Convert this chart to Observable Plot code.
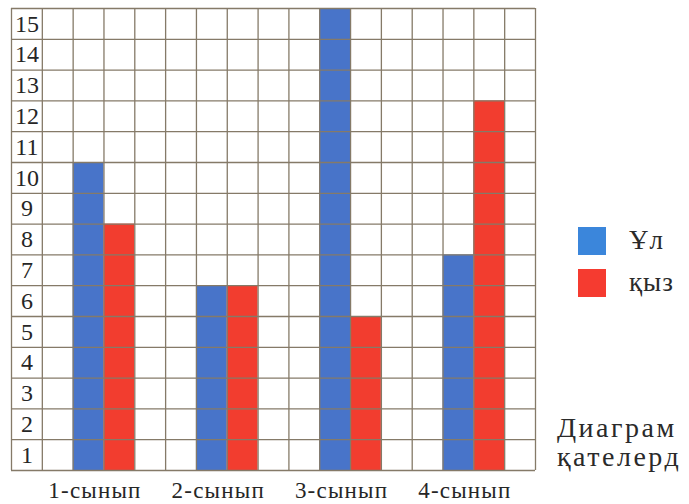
<!DOCTYPE html>
<html><head><meta charset="utf-8">
<script src="https://cdn.jsdelivr.net/npm/d3@7"></script>
<script src="https://cdn.jsdelivr.net/npm/@observablehq/plot@0.6"></script>
<style>
body{margin:0;background:#fff;}
#wrap{position:relative;width:689px;height:504px;overflow:hidden;font-family:"Liberation Serif","DejaVu Serif",serif;color:#2a2a2a;background:#fff;}
#wrap svg{position:absolute;left:0;top:0;}
.sw{position:absolute;width:28px;height:28px;}
.lt{position:absolute;font-size:27px;line-height:28px;white-space:nowrap;letter-spacing:1px;}
.note{position:absolute;left:557px;font-size:28px;line-height:29px;white-space:nowrap;letter-spacing:2.5px;}
.x-lab{letter-spacing:1.2px;}
</style></head><body><div id="wrap"></div>
<script>
const classes = ["1-сынып", "2-сынып", "3-сынып", "4-сынып"];
const boys = [10, 6, 15, 7];
const girls = [8, 6, 5, 12];
const yLabels = [1, 2, 3, 4, 5, 6, 7, 8, 9, 10, 11, 12, 13, 14, 15];
const seriesNames = ["Ұл", "қыз"];
const barColors = ["#4874c9", "#f23d2f"];
const legendColors = ["#3b86db", "#f53b30"];
const noteLines = ["Диаграм", "қателерд"];

const rows = classes.flatMap((c, i) => [
  {cls: c, s: seriesNames[0], col: 2 + 4 * i, v: boys[i]},
  {cls: c, s: seriesNames[1], col: 3 + 4 * i, v: girls[i]}
]);

const chart = Plot.plot({
  width: 689, height: 504,
  marginLeft: 11, marginRight: 154, marginTop: 8, marginBottom: 34,
  style: {fontFamily: "'Liberation Serif', 'DejaVu Serif', serif", background: "transparent"},
  x: {domain: [0, 17], axis: null},
  y: {domain: [0, 15], axis: null},
  color: {domain: seriesNames, range: barColors},
  marks: [
    Plot.rectY(rows, {x1: "col", x2: d => d.col + 1, y1: 0, y2: "v", fill: "s", inset: 0}),
    Plot.ruleX(d3.range(0, 18), {stroke: "#857a68", strokeWidth: 1.3}),
    Plot.ruleY(d3.range(0, 16), {stroke: "#857a68", strokeWidth: 1.3}),
    Plot.text(yLabels, {x: 0.5, y: d => d - 0.5, text: d => String(d), fontSize: 24, fill: "#262626"}),
    Plot.text(classes, {x: (d, i) => 3 + 4 * i, y: 0, dy: 20, dx: -9, text: d => d, fontSize: 23, fill: "#262626", className: "x-lab"})
  ]
});
const wrap = document.getElementById("wrap");
wrap.appendChild(chart);

seriesNames.forEach((n, i) => {
  const sw = document.createElement("div");
  sw.className = "sw";
  sw.style.left = "578px";
  sw.style.top = (227 + i * 42) + "px";
  sw.style.background = legendColors[i];
  wrap.appendChild(sw);
  const t = document.createElement("div");
  t.className = "lt";
  t.style.left = "629px";
  t.style.top = (226 + i * 42) + "px";
  t.textContent = n;
  wrap.appendChild(t);
});
noteLines.forEach((s, i) => {
  const t = document.createElement("div");
  t.className = "note";
  t.style.top = (413 + i * 29) + "px";
  t.textContent = s;
  wrap.appendChild(t);
});
</script></body></html>
